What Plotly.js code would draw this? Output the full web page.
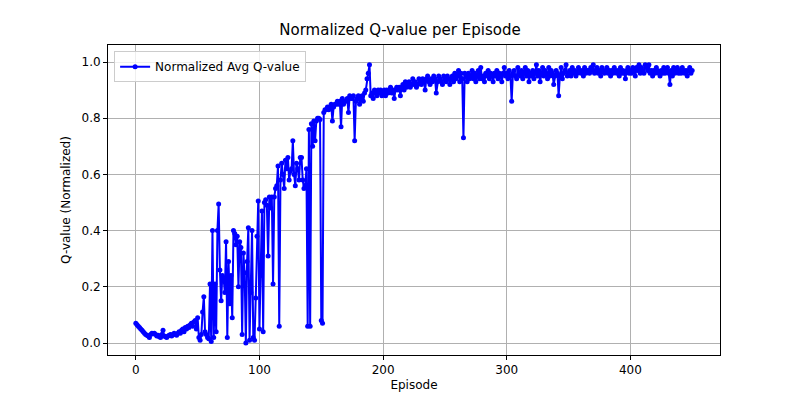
<!DOCTYPE html>
<html>
<head>
<script src="https://cdn.plot.ly/plotly-3.0.1.min.js"></script>
<style>body{margin:0}#chart{width:800px;height:400px}</style>
</head>
<body>
<div id="chart"></div>
<script>
const qValues = [
  .07,.065,.06,.055,.05,.045,.04,.035,.03,.028,
  .025,.02,.03,.035,.033,.035,.03,.025,.028,.022,
  .02,.03,.045,.025,.022,.02,.025,.028,.03,.025,
  .03,.035,.03,.028,.035,.04,.035,.045,.05,.04,
  .055,.05,.06,.055,.065,.07,.06,.075,.08,.05,
  .09,.02,.01,.03,.11,.165,.04,.03,.02,.015,
  .21,.005,.40,.02,.21,.04,.40,.495,.26,.15,
  .24,.23,.18,.36,.02,.29,.14,.24,.09,.40,
  .39,.35,.38,.2,.36,.34,.03,.32,.25,.0,
  .29,.41,.01,.18,.4,.02,.01,.16,.38,.505,
  .05,.24,.47,.04,.50,.51,.49,.31,.52,.48,
  .52,.21,.52,.55,.56,.63,.06,.58,.64,.60,
  .55,.65,.62,.66,.58,.61,.62,.72,.60,.56,
  .64,.62,.58,.66,.66,.58,.55,.56,.62,.06,
  .76,.06,.78,.70,.79,.72,.79,.80,.80,.795,
  .08,.07,.82,.83,.83,.84,.83,.84,.85,.79,
  .84,.85,.85,.86,.85,.86,.77,.87,.85,.86,
  .86,.87,.82,.88,.87,.87,.88,.72,.86,.87,
  .88,.85,.87,.88,.86,.89,.90,.94,.96,.99,
  .88,.89,.87,.90,.89,.88,.90,.89,.90,.88,
  .89,.90,.88,.90,.89,.90,.91,.89,.90,.87,
  .90,.91,.90,.91,.88,.91,.92,.90,.93,.91,
  .92,.93,.91,.92,.94,.92,.93,.91,.92,.94,
  .93,.92,.94,.93,.90,.94,.95,.93,.92,.94,
  .93,.95,.94,.89,.93,.95,.94,.93,.92,.95,
  .94,.93,.95,.94,.92,.94,.95,.93,.96,.94,
  .95,.97,.93,.96,.94,.73,.96,.95,.93,.96,
  .94,.95,.97,.94,.96,.93,.95,.97,.94,.98,
  .94,.95,.93,.96,.95,.97,.94,.96,.95,.93,
  .96,.95,.97,.94,.96,.95,.93,.96,.98,.95,
  .96,.94,.97,.95,.86,.96,.97,.95,.94,.98,
  .96,.95,.97,.94,.96,.98,.95,.97,.93,.96,
  .95,.97,.94,.96,.99,.95,.97,.93,.96,.98,
  .95,.97,.96,.94,.98,.95,.97,.96,.92,.95,
  .97,.96,.88,.95,.98,.94,.96,.97,.99,.95,
  .96,.97,.95,.98,.96,.97,.95,.96,.98,.97,
  .96,.97,.95,.98,.96,.97,.97,.96,.98,.97,
  .99,.96,.97,.98,.96,.97,.95,.98,.97,.96,
  .97,.98,.96,.97,.95,.97,.96,.98,.97,.96,
  .97,.95,.98,.96,.97,.96,.94,.97,.98,.96,
  .97,.96,.98,.97,.95,.98,.97,.99,.96,.98,
  .97,.96,.99,.98,.97,.99,.96,.97,.95,.97,
  .96,.98,.97,.96,.95,.97,.96,.98,.96,.97,
  .98,.96,.92,.97,.95,.98,.96,.97,.98,.96,
  .97,.96,.98,.97,.96,.97,.95,.97,.98,.96,
  .97
];
const episodes = qValues.map((v, i) => i);

const axisStyle = {
  showline: true, linecolor: 'black', linewidth: 1, mirror: true,
  ticks: 'outside', ticklen: 4, tickcolor: 'black',
  showgrid: true, gridcolor: '#b0b0b0', gridwidth: 1, zeroline: false,
  tickfont: {size: 12, color: 'black'}
};

Plotly.newPlot('chart', [{
  x: episodes, y: qValues, mode: 'lines+markers', type: 'scatter',
  name: 'Normalized Avg Q-value',
  line: {color: 'blue', width: 2}, marker: {color: 'blue', size: 5}
}], {
  width: 800, height: 400,
  font: {family: 'DejaVu Sans', color: 'black'},
  margin: {l: 108, r: 80, t: 45, b: 45},
  title: {text: 'Normalized Q-value per Episode', x: 0.5, y: 0.94, font: {size: 15}},
  xaxis: Object.assign({}, axisStyle, {range: [-22.5, 472.5], tickvals: [0, 100, 200, 300, 400],
    title: {text: 'Episode', font: {size: 12}, standoff: 4}}),
  yaxis: Object.assign({}, axisStyle, {range: [-0.0427, 1.0605], tickvals: [0, 0.2, 0.4, 0.6, 0.8, 1.0],
    tickformat: '.1f', title: {text: 'Q-value (Normalized)', font: {size: 12}, standoff: 8}}),
  showlegend: true,
  legend: {x: 0.01, y: 0.98, bgcolor: 'rgba(255,255,255,0.8)', bordercolor: '#ccc', borderwidth: 1, font: {size: 12}},
  plot_bgcolor: 'white', paper_bgcolor: 'white'
}, {staticPlot: true});
</script>
</body>
</html>
